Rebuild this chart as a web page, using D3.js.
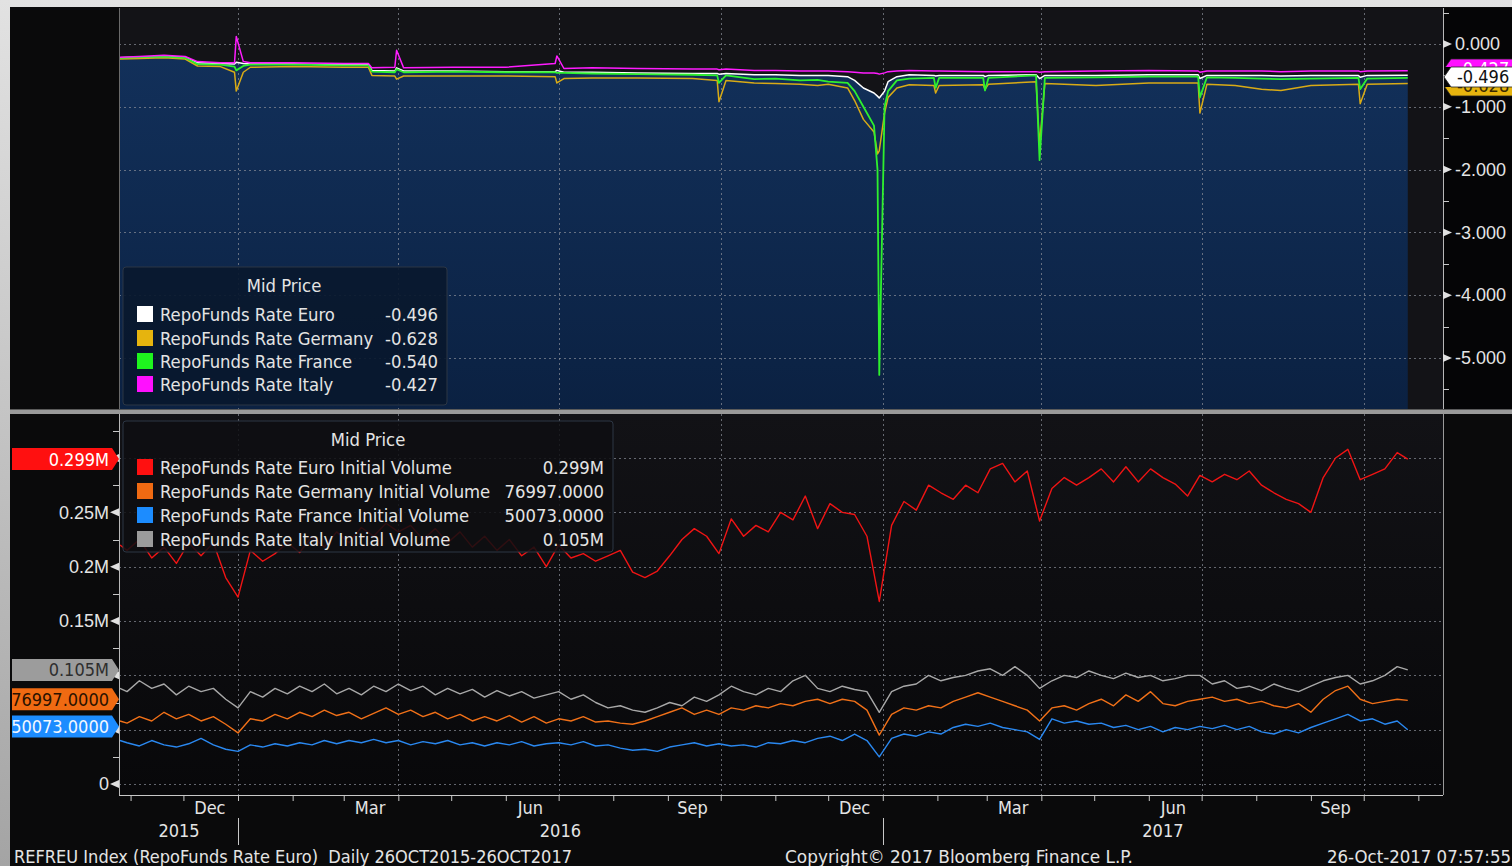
<!DOCTYPE html>
<html lang="en">
<head>
<meta charset="UTF-8">
<title>RepoFunds Rate Euro</title>
<script src="https://d3js.org/d3.v7.min.js"></script>
<style>
  html, body { margin: 0; padding: 0; background: #d6d6d6; overflow: hidden; }
  svg { display: block; font-family: 'DejaVu Sans Condensed', 'DejaVu Sans', sans-serif; font-stretch: condensed; }
  text { fill: #e4e4e4; }
</style>
</head>
<body>
<svg width="1512" height="866"></svg>
<script>
// ---- top panel: RepoFunds rates (Mid Price)
const topDates = ["2015-10-26","2015-11-06","2015-11-20","2015-12-02","2015-12-09","2015-12-22","2015-12-30","2015-12-31",
  "2016-01-04","2016-01-08","2016-02-01","2016-03-01","2016-03-15","2016-03-17","2016-03-30","2016-03-31","2016-04-04",
  "2016-05-02","2016-06-01","2016-06-29","2016-06-30","2016-07-04","2016-07-20","2016-08-15","2016-09-15","2016-09-29",
  "2016-09-30","2016-10-04","2016-10-20","2016-11-01","2016-11-15","2016-11-25","2016-12-01","2016-12-12","2016-12-16",
  "2016-12-21","2016-12-27","2016-12-29","2016-12-30","2017-01-02","2017-01-04","2017-01-09","2017-01-16","2017-01-30",
  "2017-01-31","2017-02-02","2017-02-27","2017-02-28","2017-03-02","2017-03-29","2017-03-31","2017-04-03","2017-05-02",
  "2017-06-01","2017-06-29","2017-06-30","2017-07-04","2017-07-20","2017-08-04","2017-08-15","2017-09-01","2017-09-28",
  "2017-09-29","2017-10-03","2017-10-26"];
const euroRate = [-0.22,-0.21,-0.20,-0.21,-0.30,-0.31,-0.32,-0.29,-0.31,-0.32,-0.32,-0.33,-0.33,-0.42,-0.43,-0.38,-0.43,
  -0.43,-0.44,-0.44,-0.42,-0.45,-0.45,-0.46,-0.47,-0.47,-0.48,-0.47,-0.49,-0.49,-0.50,-0.50,-0.50,-0.52,-0.58,
  -0.70,-0.78,-0.83,-0.86,-0.75,-0.60,-0.52,-0.49,-0.50,-0.51,-0.50,-0.50,-0.52,-0.50,-0.49,-0.55,-0.50,-0.50,
  -0.49,-0.49,-0.55,-0.50,-0.50,-0.50,-0.51,-0.50,-0.50,-0.53,-0.50,-0.496];
const germanyRate = [-0.24,-0.23,-0.22,-0.24,-0.35,-0.36,-0.45,-0.75,-0.45,-0.37,-0.36,-0.37,-0.37,-0.50,-0.51,-0.56,-0.51,
  -0.51,-0.51,-0.52,-0.62,-0.55,-0.54,-0.54,-0.55,-0.58,-0.92,-0.58,-0.62,-0.63,-0.64,-0.66,-0.64,-0.70,-0.90,
  -1.20,-1.40,-1.75,-1.70,-1.10,-0.85,-0.70,-0.65,-0.66,-0.78,-0.66,-0.65,-0.72,-0.64,-0.60,-1.60,-0.63,-0.66,
  -0.62,-0.62,-1.10,-0.64,-0.66,-0.72,-0.74,-0.66,-0.64,-0.95,-0.64,-0.628];
const franceRate = [-0.22,-0.21,-0.20,-0.22,-0.32,-0.33,-0.36,-0.42,-0.35,-0.33,-0.33,-0.34,-0.34,-0.44,-0.45,-0.40,-0.45,
  -0.44,-0.45,-0.45,-0.46,-0.46,-0.47,-0.48,-0.49,-0.50,-0.62,-0.50,-0.56,-0.55,-0.58,-0.57,-0.60,-0.62,-0.75,
  -1.00,-1.30,-2.00,-5.27,-1.00,-0.75,-0.58,-0.55,-0.54,-0.70,-0.54,-0.54,-0.74,-0.54,-0.50,-1.85,-0.54,-0.53,
  -0.52,-0.52,-0.85,-0.53,-0.54,-0.55,-0.56,-0.55,-0.54,-0.72,-0.55,-0.540];
const italyRate = [-0.21,-0.20,-0.18,-0.20,-0.28,-0.30,-0.30,0.12,-0.28,-0.30,-0.30,-0.31,-0.31,-0.38,-0.37,-0.10,-0.38,
  -0.37,-0.37,-0.31,-0.19,-0.39,-0.38,-0.39,-0.40,-0.40,-0.41,-0.40,-0.42,-0.42,-0.43,-0.43,-0.43,-0.44,-0.45,
  -0.46,-0.46,-0.47,-0.48,-0.46,-0.44,-0.43,-0.42,-0.43,-0.43,-0.43,-0.44,-0.44,-0.44,-0.44,-0.45,-0.44,-0.43,
  -0.42,-0.43,-0.45,-0.43,-0.43,-0.43,-0.44,-0.43,-0.43,-0.44,-0.43,-0.427];
const rateNames = ["RepoFunds Rate Euro", "RepoFunds Rate Germany", "RepoFunds Rate France", "RepoFunds Rate Italy"];
const rateLast = ["-0.496", "-0.628", "-0.540", "-0.427"];
const rateTicks = [0, -1, -2, -3, -4, -5];
const rateMinor = [0.5, -0.5, -1.5, -2.5, -3.5, -4.5, -5.5];

// ---- bottom panel: initial volumes, Oct 26 2015, weekly Fridays, Oct 26 2017
const volFirst = "2015-10-26", volLast = "2017-10-26";
const euroVol = [0.22,
  0.215,0.225,0.208,0.218,0.203,0.222,0.21,0.222,0.19,0.172,
  0.215,0.205,0.212,0.222,0.213,0.228,0.218,0.232,0.222,0.236,
  0.228,0.24,0.232,0.238,0.225,0.235,0.222,0.232,0.218,0.228,
  0.215,0.225,0.21,0.218,0.2,0.22,0.208,0.212,0.205,0.21,
  0.215,0.195,0.19,0.196,0.21,0.225,0.235,0.228,0.212,0.244,
  0.228,0.238,0.232,0.25,0.243,0.265,0.235,0.258,0.25,0.248,
  0.228,0.168,0.238,0.26,0.252,0.275,0.268,0.262,0.275,0.268,
  0.29,0.295,0.278,0.288,0.242,0.272,0.282,0.275,0.282,0.29,
  0.278,0.292,0.278,0.29,0.282,0.276,0.265,0.284,0.278,0.285,
  0.28,0.288,0.275,0.268,0.262,0.258,0.25,0.282,0.3,0.308,
  0.28,0.285,0.29,0.305,
  0.299];
const germanyVol = [0.058,
  0.056,0.062,0.058,0.066,0.06,0.064,0.058,0.062,0.055,0.047,
  0.06,0.058,0.064,0.06,0.066,0.062,0.068,0.063,0.066,0.06,
  0.065,0.07,0.064,0.068,0.062,0.066,0.06,0.064,0.058,0.062,
  0.058,0.063,0.057,0.062,0.056,0.06,0.058,0.062,0.057,0.058,
  0.056,0.055,0.058,0.062,0.066,0.07,0.064,0.068,0.064,0.07,
  0.068,0.072,0.07,0.074,0.072,0.076,0.078,0.074,0.078,0.076,
  0.068,0.045,0.064,0.07,0.068,0.072,0.07,0.076,0.08,0.084,
  0.08,0.076,0.072,0.068,0.058,0.07,0.072,0.068,0.074,0.078,
  0.072,0.082,0.076,0.085,0.074,0.072,0.076,0.078,0.08,0.076,
  0.078,0.074,0.076,0.072,0.07,0.074,0.066,0.078,0.086,0.09,
  0.078,0.074,0.076,0.078,
  0.077];
const franceVol = [0.04,
  0.038,0.035,0.04,0.036,0.034,0.037,0.042,0.036,0.032,0.03,
  0.036,0.034,0.037,0.035,0.038,0.036,0.04,0.037,0.04,0.038,
  0.041,0.038,0.04,0.036,0.039,0.037,0.04,0.036,0.038,0.035,
  0.038,0.036,0.039,0.035,0.037,0.038,0.036,0.039,0.035,0.036,
  0.033,0.031,0.032,0.03,0.034,0.036,0.038,0.035,0.037,0.035,
  0.036,0.034,0.038,0.037,0.04,0.038,0.042,0.044,0.04,0.046,
  0.04,0.025,0.042,0.046,0.044,0.048,0.046,0.052,0.055,0.053,
  0.056,0.052,0.05,0.048,0.041,0.06,0.056,0.058,0.055,0.056,
  0.052,0.054,0.05,0.053,0.048,0.052,0.05,0.053,0.051,0.054,
  0.05,0.053,0.048,0.046,0.05,0.047,0.052,0.056,0.06,0.064,
  0.058,0.06,0.055,0.058,
  0.050];
const italyVol = [0.088,
  0.085,0.095,0.088,0.092,0.082,0.09,0.085,0.088,0.078,0.07,
  0.085,0.08,0.088,0.083,0.09,0.085,0.092,0.083,0.088,0.082,
  0.09,0.085,0.092,0.086,0.09,0.082,0.088,0.083,0.087,0.08,
  0.086,0.081,0.085,0.079,0.082,0.085,0.078,0.082,0.075,0.07,
  0.072,0.068,0.066,0.07,0.075,0.072,0.08,0.076,0.082,0.09,
  0.085,0.082,0.088,0.085,0.095,0.1,0.088,0.085,0.09,0.087,
  0.085,0.066,0.085,0.09,0.092,0.1,0.095,0.098,0.1,0.104,
  0.106,0.1,0.108,0.1,0.088,0.095,0.1,0.098,0.104,0.1,
  0.097,0.102,0.098,0.1,0.095,0.097,0.1,0.1,0.092,0.095,
  0.088,0.09,0.086,0.092,0.088,0.085,0.09,0.095,0.098,0.1,
  0.092,0.095,0.1,0.108,
  0.105];
const volNames = ["RepoFunds Rate Euro Initial Volume", "RepoFunds Rate Germany Initial Volume",
  "RepoFunds Rate France Initial Volume", "RepoFunds Rate Italy Initial Volume"];
const volLastLabel = ["0.299M", "76997.0000", "50073.0000", "0.105M"];
const volTicks = [0, 0.05, 0.1, 0.15, 0.2, 0.25, 0.3];
const volLabelTicks = [0, 0.15, 0.2, 0.25];   // the others sit under the value badges
const volMinor = [0.025, 0.075, 0.125, 0.175, 0.225, 0.275, 0.325];

const quarterLabels = ["Dec", "Mar", "Jun", "Sep"];
const yearLabels = ["2015", "2016", "2017"];
const footLeft = "REFREU Index (RepoFunds Rate Euro)  Daily 26OCT2015-26OCT2017";
const footMid = "Copyright\u00a9 2017 Bloomberg Finance L.P.";
const footRight = "26-Oct-2017 07:57:55";

// colours
const rateColors = ["#ffffff", "#d9ab16", "#2ef02e", "#ff1cff"];
const volColors = ["#f01414", "#f07018", "#2a88f0", "#a8a8a8"];
const swatchRate = ["#ffffff", "#e6b40e", "#1ef51e", "#ff10ff"];
const swatchVol = ["#ff1010", "#f06a12", "#1c8cff", "#9c9c9c"];

const parse = d3.timeParse("%Y-%m-%d");
const W = 1512, H = 866;
const L = 119, R = 1443;
const topY0 = 8, topY1 = 409, botY0 = 414, botY1 = 795;
const FS = 18;

const svg = d3.select("svg");
const defs = svg.append("defs");

const fg = defs.append("linearGradient").attr("id", "frame").attr("x1", 0).attr("y1", 0).attr("x2", 0).attr("y2", 1);
fg.append("stop").attr("offset", 0).attr("stop-color", "#e2e2e2");
fg.append("stop").attr("offset", 1).attr("stop-color", "#a4a4a4");
const ag = defs.append("linearGradient").attr("id", "areaFill").attr("x1", 0).attr("y1", 0).attr("x2", 0).attr("y2", 1);
ag.append("stop").attr("offset", 0).attr("stop-color", "#12305a");
ag.append("stop").attr("offset", 1).attr("stop-color", "#0b2142");
const bg = defs.append("linearGradient").attr("id", "botFill").attr("x1", 0).attr("y1", 0).attr("x2", 0).attr("y2", 1);
bg.append("stop").attr("offset", 0).attr("stop-color", "#121216");
bg.append("stop").attr("offset", 1).attr("stop-color", "#08080a");

defs.append("clipPath").attr("id", "clipTop").append("rect")
  .attr("x", L).attr("y", topY0).attr("width", R - L).attr("height", topY1 - topY0);
defs.append("clipPath").attr("id", "clipBot").append("rect")
  .attr("x", L).attr("y", botY0).attr("width", R - L).attr("height", botY1 - botY0);
// the stacked right-hand badges hide each other, as in the terminal
defs.append("clipPath").attr("id", "clipItaly").append("rect")
  .attr("x", R).attr("y", 50).attr("width", W - R).attr("height", 17);
defs.append("clipPath").attr("id", "clipGermany").append("rect")
  .attr("x", R).attr("y", 87).attr("width", W - R).attr("height", 14);

// background and frame
svg.append("rect").attr("width", W).attr("height", H).attr("fill", "url(#frame)");
svg.append("rect").attr("x", 10).attr("y", 7).attr("width", W - 10).attr("height", H - 7).attr("fill", "#0a0a0b");
svg.append("rect").attr("x", L).attr("y", topY0).attr("width", R - L).attr("height", topY1 - topY0).attr("fill", "#131317");
svg.append("rect").attr("x", R).attr("y", topY0).attr("width", W - R).attr("height", topY1 - topY0).attr("fill", "#050506");
svg.append("rect").attr("x", L).attr("y", botY0).attr("width", R - L).attr("height", botY1 - botY0).attr("fill", "url(#botFill)");
svg.append("rect").attr("x", 10).attr("y", topY1).attr("width", W - 10).attr("height", botY0 - topY1).attr("fill", "#9a9a9a");
svg.append("rect").attr("x", 10).attr("y", topY1).attr("width", W - 10).attr("height", 1).attr("fill", "#5a5a5a");

// scales
const x = d3.scaleTime().domain([new Date(2015, 9, 26), new Date(2017, 10, 15)]).range([L + 1, R]);
const yTop = d3.scaleLinear().domain([0, -5]).range([44, 358]);
const yBot = d3.scaleLinear().domain([0, 0.3]).range([784, 458]);

const topData = topDates.map((d, i) => ({
  date: parse(d), v: [euroRate[i], germanyRate[i], franceRate[i], italyRate[i]]
}));
const volDates = [parse(volFirst)]
  .concat(d3.timeFriday.range(new Date(2015, 9, 30), new Date(2017, 9, 21)))
  .concat([parse(volLast)]);
const volSeries = [euroVol, germanyVol, franceVol, italyVol];
const volData = volDates.map((d, i) => ({ date: d, v: volSeries.map(s => s[i]) }));

const quarterStarts = d3.timeMonth.every(3).range(new Date(2016, 0, 1), new Date(2017, 10, 15));
const months = d3.timeMonth.range(new Date(2015, 10, 1), new Date(2017, 10, 15));

// ---- top panel
const gTop = svg.append("g").attr("clip-path", "url(#clipTop)");
gTop.append("path").datum(topData)
  .attr("fill", "url(#areaFill)")
  .attr("d", d3.area().x(d => x(d.date)).y0(topY1).y1(d => yTop(d.v[0])));

const gridStyle = sel => sel.attr("stroke", "#8a8f98").attr("stroke-opacity", 0.7)
  .attr("stroke-width", 1).attr("stroke-dasharray", "2,3");
gTop.selectAll("line.hg").data(rateTicks).join("line").attr("class", "hg")
  .attr("x1", L).attr("x2", R).attr("y1", d => Math.round(yTop(d)) + 0.5).attr("y2", d => Math.round(yTop(d)) + 0.5)
  .call(gridStyle);
gTop.selectAll("line.vg").data(quarterStarts).join("line").attr("class", "vg")
  .attr("x1", d => Math.round(x(d)) + 0.5).attr("x2", d => Math.round(x(d)) + 0.5).attr("y1", topY0).attr("y2", topY1)
  .call(gridStyle);

[0, 1, 2, 3].forEach(k => {
  gTop.append("path").datum(topData)
    .attr("fill", "none").attr("stroke", rateColors[k]).attr("stroke-width", k === 2 ? 1.8 : 1.5)
    .attr("stroke-linejoin", "round")
    .attr("d", d3.line().x(d => x(d.date)).y(d => yTop(d.v[k])));
});

// top right axis
svg.append("line").attr("x1", R + 0.5).attr("x2", R + 0.5).attr("y1", topY0).attr("y2", topY1)
  .attr("stroke", "#b8b8b8");
const axTop = svg.append("g").attr("transform", `translate(${R},0)`)
  .call(d3.axisRight(yTop).tickValues(rateTicks).tickFormat(d => d.toFixed(3)).tickSize(0).tickPadding(12));
axTop.select(".domain").remove();
axTop.selectAll("text").attr("fill", "#e4e4e4").attr("font-size", FS).attr("font-family", null);
svg.selectAll("path.tri-r").data(rateTicks).join("path").attr("class", "tri-r")
  .attr("d", d => `M${R},${yTop(d) - 4}L${R + 9},${yTop(d)}L${R},${yTop(d) + 4}Z`).attr("fill", "#e0e0e0");
svg.selectAll("line.mr").data(rateMinor).join("line").attr("class", "mr")
  .attr("x1", R).attr("x2", R + 6).attr("y1", d => Math.round(yTop(d)) + 0.5).attr("y2", d => Math.round(yTop(d)) + 0.5)
  .attr("stroke", "#c8c8c8");

// last value badges, right (magenta and yellow peek out behind the white one)
function badgeRight(yc, fill, label, txt, clip) {
  const h = 20, g = svg.append("g");
  if (clip) g.attr("clip-path", `url(#${clip})`);
  g.append("path").attr("d", `M${R + 1},${yc}L${R + 8},${yc - h / 2}L${W + 2},${yc - h / 2}L${W + 2},${yc + h / 2}L${R + 8},${yc + h / 2}Z`)
    .attr("fill", fill).attr("stroke", "#222").attr("stroke-width", 0.8);
  g.append("text").attr("x", R + 14).attr("y", yc).attr("dy", "0.36em").attr("font-size", FS)
    .style("fill", txt).text(label);
}
badgeRight(86, swatchRate[1], rateLast[1], "#3a2a00", "clipGermany");
badgeRight(69, swatchRate[3], rateLast[3], "#ffffff", "clipItaly");
badgeRight(77, "#ffffff", rateLast[0], "#111111");

// legends
function legend(x0, y0, w, h, fill, names, vals, swatches, rows, titleX, valX, fs) {
  const g = svg.append("g");
  g.append("rect").attr("x", x0).attr("y", y0).attr("width", w).attr("height", h).attr("rx", 3)
    .attr("fill", fill).attr("stroke", "#2c3644").attr("stroke-width", 1);
  g.append("text").attr("x", titleX).attr("y", y0 + 25).attr("text-anchor", "middle")
    .attr("font-size", fs).text("Mid Price");
  names.forEach((n, i) => {
    const yc = rows[i];
    g.append("rect").attr("x", x0 + 14).attr("y", yc - 8).attr("width", 16).attr("height", 16).attr("fill", swatches[i]);
    g.append("text").attr("x", x0 + 37).attr("y", yc).attr("dy", "0.36em").attr("font-size", fs).text(n);
    g.append("text").attr("x", valX).attr("y", yc).attr("dy", "0.36em").attr("text-anchor", "end")
      .attr("font-size", fs).text(vals[i]);
  });
}
legend(123, 267, 324, 138, "rgba(9,24,46,0.92)", rateNames, rateLast, swatchRate, [314, 338, 361, 384], 284, 438, 18.3);

// ---- bottom panel
const gBot = svg.append("g").attr("clip-path", "url(#clipBot)");
gBot.selectAll("line.hg").data(volTicks).join("line").attr("class", "hg")
  .attr("x1", L).attr("x2", R).attr("y1", d => Math.round(yBot(d)) + 0.5).attr("y2", d => Math.round(yBot(d)) + 0.5)
  .call(gridStyle);
gBot.selectAll("line.vg").data(quarterStarts).join("line").attr("class", "vg")
  .attr("x1", d => Math.round(x(d)) + 0.5).attr("x2", d => Math.round(x(d)) + 0.5).attr("y1", botY0).attr("y2", botY1)
  .call(gridStyle);
[0, 1, 2, 3].forEach(k => {
  gBot.append("path").datum(volData)
    .attr("fill", "none").attr("stroke", volColors[k]).attr("stroke-width", 1.4)
    .attr("stroke-linejoin", "round")
    .attr("d", d3.line().x(d => x(d.date)).y(d => yBot(d.v[k])));
});

legend(123, 421, 490, 131, "rgba(14,14,18,0.86)", volNames, volLastLabel, swatchVol, [467, 491, 515, 539], 368, 604, 18.3);

// left axis
svg.append("line").attr("x1", L + 0.5).attr("x2", L + 0.5).attr("y1", botY0).attr("y2", botY1).attr("stroke", "#b8b8b8");
svg.append("line").attr("x1", L + 0.5).attr("x2", L + 0.5).attr("y1", topY0).attr("y2", topY1).attr("stroke", "#6a6a6a");
svg.append("line").attr("x1", R + 0.5).attr("x2", R + 0.5).attr("y1", botY0).attr("y2", botY1).attr("stroke", "#9a9a9a");
const fmtVol = d => d === 0 ? "0" : (+d.toFixed(3)) + "M";
const axBot = svg.append("g").attr("transform", `translate(${L},0)`)
  .call(d3.axisLeft(yBot).tickValues(volLabelTicks).tickFormat(fmtVol).tickSize(0).tickPadding(10));
axBot.select(".domain").remove();
axBot.selectAll("text").attr("fill", "#e4e4e4").attr("font-size", FS).attr("font-family", null);
svg.selectAll("path.tri-l").data(volTicks).join("path").attr("class", "tri-l")
  .attr("d", d => `M${L},${yBot(d) - 4}L${L - 9},${yBot(d)}L${L},${yBot(d) + 4}Z`).attr("fill", "#e0e0e0");
svg.selectAll("line.ml").data(volMinor).join("line").attr("class", "ml")
  .attr("x1", L - 6).attr("x2", L).attr("y1", d => Math.round(yBot(d)) + 0.5).attr("y2", d => Math.round(yBot(d)) + 0.5)
  .attr("stroke", "#c8c8c8");

// left badges
function badgeLeft(yc, fill, label, txt) {
  const h = 22, g = svg.append("g");
  g.append("path").attr("d", `M12,${yc - h / 2}L112,${yc - h / 2}L${L},${yc}L112,${yc + h / 2}L12,${yc + h / 2}Z`)
    .attr("fill", fill);
  g.append("text").attr("x", 109).attr("y", yc).attr("dy", "0.36em").attr("text-anchor", "end")
    .attr("font-size", FS).style("fill", txt).text(label);
}
badgeLeft(yBot(0.299), swatchVol[0], volLastLabel[0], "#ffffff");
badgeLeft(yBot(0.105), swatchVol[3], volLastLabel[3], "#2e2e2e");
badgeLeft(yBot(0.077) - 1, swatchVol[1], volLastLabel[1], "#2a1200");
badgeLeft(yBot(0.050073) - 3, swatchVol[2], volLastLabel[2], "#f2f7ff");

// x axis
const axX = svg.append("g").attr("transform", `translate(0,${botY1})`)
  .call(d3.axisBottom(x).tickValues(months).tickFormat("").tickSize(6));
axX.select(".domain").attr("d", `M${L},0.5H${R}`).attr("stroke", "#c8c8c8");
axX.selectAll(".tick line").attr("stroke", "#c8c8c8");

const quarterMid = [new Date(2015, 11, 16), new Date(2016, 2, 16), new Date(2016, 5, 15), new Date(2016, 8, 15),
  new Date(2016, 11, 16), new Date(2017, 2, 16), new Date(2017, 5, 15), new Date(2017, 8, 15)];
svg.selectAll("text.mon").data(quarterMid).join("text").attr("class", "mon")
  .attr("x", d => x(d)).attr("y", 808).attr("dy", "0.36em").attr("text-anchor", "middle").attr("font-size", FS)
  .text((d, i) => quarterLabels[i % 4]);
const yearMid = [
  d3.mean([x.range()[0], x(new Date(2016, 0, 1))]),
  d3.mean([x(new Date(2016, 0, 1)), x(new Date(2017, 0, 1))]),
  d3.mean([x(new Date(2017, 0, 1)), x.range()[1]])];
svg.selectAll("text.yr").data(yearMid).join("text").attr("class", "yr")
  .attr("x", d => d).attr("y", 831).attr("dy", "0.36em").attr("text-anchor", "middle").attr("font-size", FS)
  .text((d, i) => yearLabels[i]);
svg.selectAll("line.ysep").data([new Date(2016, 0, 1), new Date(2017, 0, 1)]).join("line").attr("class", "ysep")
  .attr("x1", d => Math.round(x(d)) + 0.5).attr("x2", d => Math.round(x(d)) + 0.5).attr("y1", 818).attr("y2", 845)
  .attr("stroke", "#c8c8c8");

// footer
svg.append("text").attr("x", 14).attr("y", 857).attr("dy", "0.36em").attr("font-size", FS)
  .attr("textLength", 558).attr("lengthAdjust", "spacingAndGlyphs")
  .style("white-space", "pre").text(footLeft);
svg.append("text").attr("x", 785).attr("y", 857).attr("dy", "0.36em").attr("font-size", FS)
  .attr("textLength", 348).attr("lengthAdjust", "spacingAndGlyphs").text(footMid);
svg.append("text").attr("x", 1327).attr("y", 857).attr("dy", "0.36em").attr("font-size", FS)
  .attr("textLength", 184).attr("lengthAdjust", "spacingAndGlyphs").text(footRight);
</script>
</body>
</html>
